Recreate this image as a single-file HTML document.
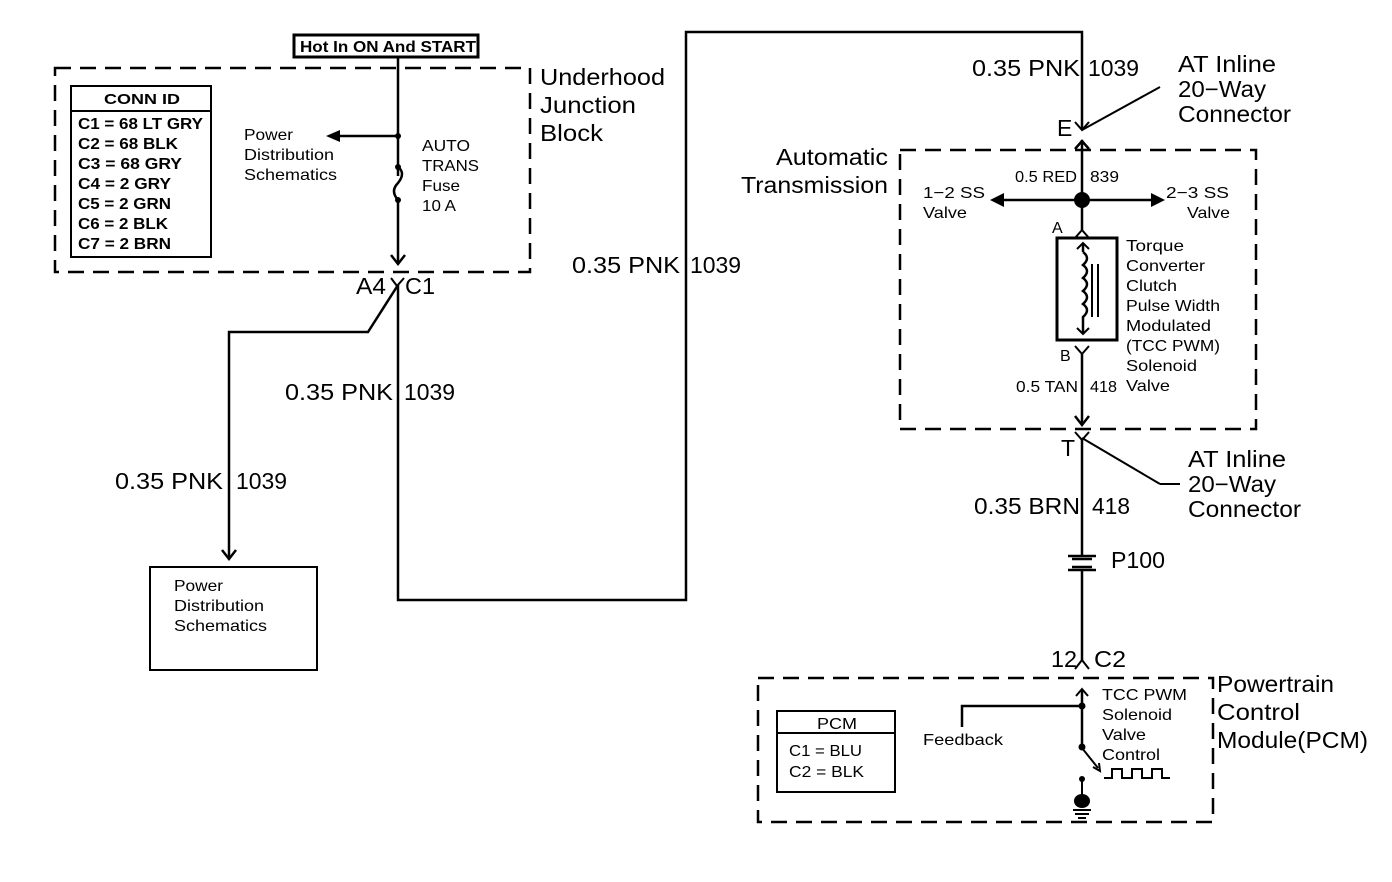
<!DOCTYPE html>
<html><head><meta charset="utf-8"><style>
html,body{margin:0;padding:0;background:#fff;}
svg{display:block;}
text{font-family:"Liberation Sans",Arial,sans-serif;fill:#000;}
.b{font-weight:bold;}
</style></head><body>
<svg width="1392" height="882" viewBox="0 0 1392 882" xmlns="http://www.w3.org/2000/svg">
<g fill="none" stroke="#000" stroke-width="2.5">
<rect x="55" y="68" width="475" height="204" stroke-dasharray="16,9"/>
<rect x="900" y="150" width="356" height="279" stroke-dasharray="16,9"/>
<rect x="758" y="678" width="455" height="144" stroke-dasharray="16,9"/>
<rect x="294" y="35" width="184" height="22" stroke-width="3"/>
<rect x="71" y="86" width="140" height="171" stroke-width="2"/>
<line x1="71" y1="111" x2="211" y2="111" stroke-width="2"/>
<rect x="150" y="567" width="167" height="103" stroke-width="2"/>
<rect x="1057" y="238" width="60" height="102" stroke-width="3"/>
<rect x="777" y="711" width="118" height="81" stroke-width="2"/>
<line x1="777" y1="733" x2="895" y2="733" stroke-width="2"/>
<polyline points="398,57 398,176"/>
<path d="M398,167 q8,6 0,16 q-8,8 0,17" />
<polyline points="398,198 398,264"/>
<polyline points="391,255 398,264 405,255"/>
<line x1="398" y1="136" x2="330" y2="136"/>
<polyline points="391,278 397,286 404,278" stroke-width="2"/>
<polyline points="398,285 368,332 229,332 229,558"/>
<polyline points="222,550 229,559 236,550"/>
<polyline points="398,285 398,600 686,600 686,32 1082,32 1082,130"/>
<polyline points="1075,122 1082,130 1089,122" stroke-width="2"/>
<line x1="1082" y1="130" x2="1160" y2="87" stroke-width="2"/>
<line x1="1082" y1="140" x2="1082" y2="230"/>
<polyline points="1075,149 1082,141 1089,149"/>
<line x1="1082" y1="200" x2="995" y2="200"/>
<line x1="1082" y1="200" x2="1155" y2="200"/>
<polyline points="1075,238 1082,230 1089,238" stroke-width="2"/>
<polyline points="1075,346 1082,354 1089,346" stroke-width="2"/>
<line x1="1083" y1="244" x2="1083" y2="252"/>
<polyline points="1077,249 1083,243 1089,249" stroke-width="2"/>
<path d="M1083,252 q8,6 0,13 q8,6 0,13 q8,6 0,13 q8,6 0,13 q8,6 0,13 L1083,334"/>
<polyline points="1077,328 1083,334 1089,328" stroke-width="2"/>
<line x1="1092" y1="264" x2="1092" y2="317" stroke-width="2"/>
<line x1="1098" y1="264" x2="1098" y2="317" stroke-width="2"/>
<line x1="1082" y1="354" x2="1082" y2="425"/>
<polyline points="1075,416 1082,425 1089,416"/>
<polyline points="1075,432 1082,440 1089,432" stroke-width="2"/>
<line x1="1082" y1="438" x2="1082" y2="556"/>
<line x1="1082" y1="438" x2="1160" y2="484" stroke-width="2"/>
<line x1="1160" y1="484" x2="1180" y2="484" stroke-width="2"/>
<line x1="1082" y1="570" x2="1082" y2="660"/>
<path d="M1068,556 h28 M1068,570 h28 M1072,559 h20 M1072,567 h20" stroke-width="2.5"/>
<polyline points="1075,669 1082,660 1089,669" stroke-width="2"/>
<line x1="1082" y1="690" x2="1082" y2="748"/>
<polyline points="1076,696 1082,689 1088,696" stroke-width="2"/>
<polyline points="1082,706 962,706 962,727" stroke-width="2.5"/>
<line x1="1082" y1="748" x2="1098" y2="768" stroke-width="2"/>
<polyline points="1093,767 1100,771 1099,763" stroke-width="2"/>
<polyline points="1104,778 1112,778 1112,769 1122,769 1122,778 1132,778 1132,769 1142,769 1142,778 1152,778 1152,769 1162,769 1162,778 1170,778" stroke-width="2"/>
<line x1="1082" y1="779" x2="1082" y2="795" stroke-width="2"/>
<path d="M1073,810 h18 M1075,814 h14 M1078,818 h8" stroke-width="2"/>
</g>
<g fill="#000">
<circle cx="398" cy="136" r="3"/>
<circle cx="398" cy="167" r="3"/>
<circle cx="398" cy="200" r="3"/>
<polygon points="326,136 340,130 340,142"/>
<circle cx="1082" cy="200" r="8"/>
<polygon points="990,200 1004,193 1004,207"/>
<polygon points="1165,200 1151,193 1151,207"/>
<circle cx="1082" cy="706" r="3.5"/>
<circle cx="1082" cy="747" r="3.5"/>
<circle cx="1082" cy="779" r="3"/>
<ellipse cx="1082" cy="801" rx="8" ry="7"/>
</g>
<g class="b">
<text x="300" y="52" font-size="16" textLength="176" lengthAdjust="spacingAndGlyphs">Hot In ON And START</text>
<text x="104" y="104" font-size="15" textLength="76" lengthAdjust="spacingAndGlyphs">CONN ID</text>
<g font-size="16">
<text x="78" y="129" textLength="125" lengthAdjust="spacingAndGlyphs">C1 = 68 LT GRY</text>
<text x="78" y="149" textLength="100" lengthAdjust="spacingAndGlyphs">C2 = 68 BLK</text>
<text x="78" y="169" textLength="104" lengthAdjust="spacingAndGlyphs">C3 = 68 GRY</text>
<text x="78" y="189" textLength="93" lengthAdjust="spacingAndGlyphs">C4 = 2 GRY</text>
<text x="78" y="209" textLength="93" lengthAdjust="spacingAndGlyphs">C5 = 2 GRN</text>
<text x="78" y="229" textLength="90" lengthAdjust="spacingAndGlyphs">C6 = 2 BLK</text>
<text x="78" y="249" textLength="93" lengthAdjust="spacingAndGlyphs">C7 = 2 BRN</text>
</g>
</g>
<g font-size="16">
<text x="244" y="140" textLength="49" lengthAdjust="spacingAndGlyphs">Power</text>
<text x="244" y="160" textLength="90" lengthAdjust="spacingAndGlyphs">Distribution</text>
<text x="244" y="180" textLength="93" lengthAdjust="spacingAndGlyphs">Schematics</text>
<text x="422" y="151" textLength="48" lengthAdjust="spacingAndGlyphs">AUTO</text>
<text x="422" y="171" textLength="57" lengthAdjust="spacingAndGlyphs">TRANS</text>
<text x="422" y="191" textLength="38" lengthAdjust="spacingAndGlyphs">Fuse</text>
<text x="422" y="211" textLength="34" lengthAdjust="spacingAndGlyphs">10 A</text>
<text x="174" y="591" textLength="49" lengthAdjust="spacingAndGlyphs">Power</text>
<text x="174" y="611" textLength="90" lengthAdjust="spacingAndGlyphs">Distribution</text>
<text x="174" y="631" textLength="93" lengthAdjust="spacingAndGlyphs">Schematics</text>
<text x="1015" y="182" textLength="62" lengthAdjust="spacingAndGlyphs">0.5 RED</text><text x="1090" y="182" textLength="29" lengthAdjust="spacingAndGlyphs">839</text>
<text x="923" y="198" textLength="62" lengthAdjust="spacingAndGlyphs">1−2 SS</text>
<text x="923" y="218" textLength="44" lengthAdjust="spacingAndGlyphs">Valve</text>
<text x="1166" y="198" textLength="63" lengthAdjust="spacingAndGlyphs">2−3 SS</text>
<text x="1187" y="218" textLength="43" lengthAdjust="spacingAndGlyphs">Valve</text>
<text x="1052" y="233">A</text>
<text x="1060" y="361">B</text>
<text x="1126" y="251" textLength="58" lengthAdjust="spacingAndGlyphs">Torque</text>
<text x="1126" y="271" textLength="79" lengthAdjust="spacingAndGlyphs">Converter</text>
<text x="1126" y="291" textLength="51" lengthAdjust="spacingAndGlyphs">Clutch</text>
<text x="1126" y="311" textLength="94" lengthAdjust="spacingAndGlyphs">Pulse Width</text>
<text x="1126" y="331" textLength="85" lengthAdjust="spacingAndGlyphs">Modulated</text>
<text x="1126" y="351" textLength="94" lengthAdjust="spacingAndGlyphs">(TCC PWM)</text>
<text x="1126" y="371" textLength="71" lengthAdjust="spacingAndGlyphs">Solenoid</text>
<text x="1126" y="391" textLength="44" lengthAdjust="spacingAndGlyphs">Valve</text>
<text x="1016" y="392" textLength="62" lengthAdjust="spacingAndGlyphs">0.5 TAN</text><text x="1090" y="392" textLength="27" lengthAdjust="spacingAndGlyphs">418</text>
<text x="1102" y="700" textLength="85" lengthAdjust="spacingAndGlyphs">TCC PWM</text>
<text x="1102" y="720" textLength="70" lengthAdjust="spacingAndGlyphs">Solenoid</text>
<text x="1102" y="740" textLength="44" lengthAdjust="spacingAndGlyphs">Valve</text>
<text x="1102" y="760" textLength="58" lengthAdjust="spacingAndGlyphs">Control</text>
<text x="923" y="745" textLength="80" lengthAdjust="spacingAndGlyphs">Feedback</text>
<text x="817" y="729" textLength="40" lengthAdjust="spacingAndGlyphs">PCM</text>
<text x="789" y="756" textLength="73" lengthAdjust="spacingAndGlyphs">C1 = BLU</text>
<text x="789" y="777" textLength="75" lengthAdjust="spacingAndGlyphs">C2 = BLK</text>
</g>
<g font-size="23">
<text x="540" y="85" textLength="125" lengthAdjust="spacingAndGlyphs">Underhood</text>
<text x="540" y="113" textLength="96" lengthAdjust="spacingAndGlyphs">Junction</text>
<text x="540" y="141" textLength="63" lengthAdjust="spacingAndGlyphs">Block</text>
<text x="356" y="294" textLength="30" lengthAdjust="spacingAndGlyphs">A4</text><text x="405" y="294" textLength="30" lengthAdjust="spacingAndGlyphs">C1</text>
<text x="285" y="400" textLength="108" lengthAdjust="spacingAndGlyphs">0.35 PNK</text><text x="404" y="400" textLength="51" lengthAdjust="spacingAndGlyphs">1039</text>
<text x="115" y="489" textLength="108" lengthAdjust="spacingAndGlyphs">0.35 PNK</text><text x="236" y="489" textLength="51" lengthAdjust="spacingAndGlyphs">1039</text>
<text x="572" y="273" textLength="108" lengthAdjust="spacingAndGlyphs">0.35 PNK</text><text x="690" y="273" textLength="51" lengthAdjust="spacingAndGlyphs">1039</text>
<text x="972" y="76" textLength="108" lengthAdjust="spacingAndGlyphs">0.35 PNK</text><text x="1088" y="76" textLength="51" lengthAdjust="spacingAndGlyphs">1039</text>
<text x="1178" y="72" textLength="98" lengthAdjust="spacingAndGlyphs">AT Inline</text>
<text x="1178" y="97" textLength="88" lengthAdjust="spacingAndGlyphs">20−Way</text>
<text x="1178" y="122" textLength="113" lengthAdjust="spacingAndGlyphs">Connector</text>
<text x="1057" y="136">E</text>
<text x="776" y="165" textLength="112" lengthAdjust="spacingAndGlyphs">Automatic</text>
<text x="741" y="193" textLength="147" lengthAdjust="spacingAndGlyphs">Transmission</text>
<text x="1061" y="456">T</text>
<text x="1188" y="467" textLength="98" lengthAdjust="spacingAndGlyphs">AT Inline</text>
<text x="1188" y="492" textLength="88" lengthAdjust="spacingAndGlyphs">20−Way</text>
<text x="1188" y="517" textLength="113" lengthAdjust="spacingAndGlyphs">Connector</text>
<text x="974" y="514" textLength="106" lengthAdjust="spacingAndGlyphs">0.35 BRN</text><text x="1092" y="514" textLength="38" lengthAdjust="spacingAndGlyphs">418</text>
<text x="1111" y="568" textLength="54" lengthAdjust="spacingAndGlyphs">P100</text>
<text x="1051" y="667" textLength="26" lengthAdjust="spacingAndGlyphs">12</text><text x="1094" y="667" textLength="32" lengthAdjust="spacingAndGlyphs">C2</text>
<text x="1217" y="692" textLength="117" lengthAdjust="spacingAndGlyphs">Powertrain</text>
<text x="1217" y="720" textLength="83" lengthAdjust="spacingAndGlyphs">Control</text>
<text x="1217" y="748" textLength="151" lengthAdjust="spacingAndGlyphs">Module(PCM)</text>
</g>
</svg>
</body></html>
